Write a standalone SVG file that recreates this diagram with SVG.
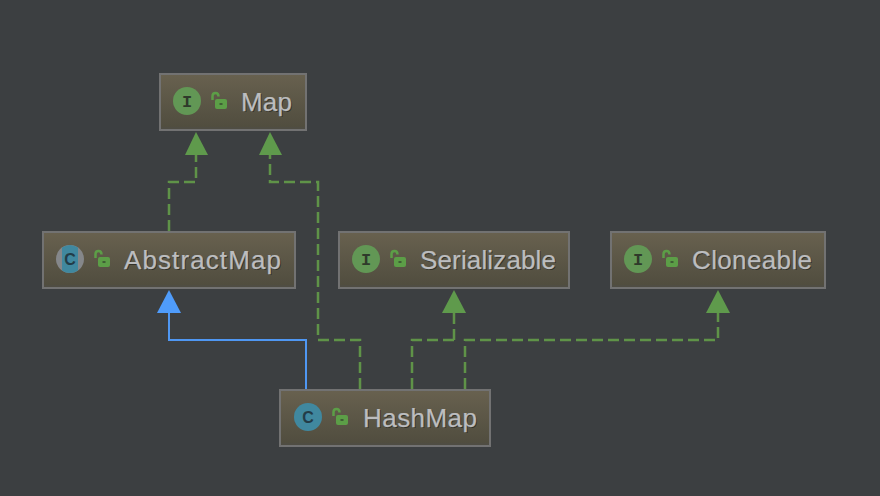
<svg xmlns="http://www.w3.org/2000/svg" width="880" height="496" viewBox="0 0 880 496">
<style>
.box{fill:url(#nodeFill);stroke:#727272;stroke-width:2}
.foot{fill:#4f4d43}
.lbl{font-family:"Liberation Sans",Arial,sans-serif;font-size:26px;fill:#bcbdbf;stroke:#bcbdbf;stroke-width:.25}
.shadow{font-family:"Liberation Sans",Arial,sans-serif;font-size:26px;fill:#26261f;fill-opacity:.75}
.ibg{fill:#629755}
.cbg{fill:#40889f}
.iglyph{font-family:"Liberation Mono",monospace;font-size:17px;font-weight:bold;text-anchor:middle;fill:#2f3a2b}
.cglyph{font-family:"Liberation Sans",Arial,sans-serif;font-size:16px;font-weight:bold;text-anchor:middle;fill:#233c48}
.lockb{fill:#5c9e47}
.locks{fill:none;stroke:#5c9e47;stroke-width:2.500}
.dash{fill:none;stroke:#5f9348;stroke-width:2.500;stroke-dasharray:11 5}
.solid{fill:none;stroke:#4f97f2;stroke-width:2}
.ghead{fill:#5f9a4c}
.bhead{fill:#4f9cfb}
</style>
<defs>
<linearGradient id="nodeFill" x1="0" y1="0" x2="0" y2="1">
<stop offset="0" stop-color="#68614f"/>
<stop offset="1" stop-color="#4f4c3e"/>
</linearGradient>
<g id="lock">
<path class="locks" d="M1.500 5V1Q1.500 -2 4.500 -2Q7.500 -2 7.500 1.500"/>
<rect class="lockb" x="4" y="4" width="12" height="10" rx="2"/>
<rect x="8.500" y="8" width="3" height="2" fill="#3f5f35"/>
</g>
</defs>
<rect width="880" height="496" fill="#3c3f41"/>
<g id="connectors">
<path class="dash" d="M169 231V182H196V154"/>
<path class="dash" d="M360 389V340H318V182H270V154"/>
<path class="solid" d="M306 389V340H169V312"/>
<path class="dash" d="M412 389V340H457"/>
<path class="dash" d="M465 389V340H718V312"/>
<path class="dash" d="M454 340V312"/>
<polygon class="ghead" points="196,132 185,155 208,155"/>
<polygon class="ghead" points="270,132 259,155 282,155"/>
<polygon class="bhead" points="169,290 157,313 181,313"/>
<polygon class="ghead" points="454,290 442,313 466,313"/>
<polygon class="ghead" points="718,290 706,313 730,313"/>
</g>
<g id="node-map">
<rect class="box" x="160" y="74" width="146" height="56"/>
<rect class="foot" x="161" y="127" width="144" height="2"/>
<circle class="ibg" cx="187" cy="101" r="14"/>
<text class="iglyph" x="187" y="107">I</text>
<use href="#lock" x="211" y="95"/>
<text class="shadow" x="242" y="112" textLength="51">Map</text>
<text class="lbl" x="241" y="111" textLength="51">Map</text>
</g>
<g id="node-abstractmap">
<rect class="box" x="43" y="232" width="252" height="56"/>
<rect class="foot" x="44" y="285" width="250" height="2"/>
<circle cx="70" cy="259" r="14" fill="#85878a"/>
<path class="cbg" d="M62 247.500A14 14 0 0 1 78 247.500V270.500A14 14 0 0 1 62 270.500Z"/>
<text class="cglyph" x="70" y="265">C</text>
<use href="#lock" x="94" y="253"/>
<text class="shadow" x="125" y="270" textLength="157">AbstractMap</text>
<text class="lbl" x="124" y="269" textLength="157">AbstractMap</text>
</g>
<g id="node-serializable">
<rect class="box" x="339" y="232" width="230" height="56"/>
<rect class="foot" x="340" y="285" width="228" height="2"/>
<circle class="ibg" cx="366" cy="259" r="14"/>
<text class="iglyph" x="366" y="265">I</text>
<use href="#lock" x="390" y="253"/>
<text class="shadow" x="421" y="270" textLength="136">Serializable</text>
<text class="lbl" x="420" y="269" textLength="136">Serializable</text>
</g>
<g id="node-cloneable">
<rect class="box" x="611" y="232" width="214" height="56"/>
<rect class="foot" x="612" y="285" width="212" height="2"/>
<circle class="ibg" cx="638" cy="259" r="14"/>
<text class="iglyph" x="638" y="265">I</text>
<use href="#lock" x="662" y="253"/>
<text class="shadow" x="693" y="270" textLength="120">Cloneable</text>
<text class="lbl" x="692" y="269" textLength="120">Cloneable</text>
</g>
<g id="node-hashmap">
<rect class="box" x="280" y="390" width="210" height="56"/>
<rect class="foot" x="281" y="443" width="208" height="2"/>
<circle class="cbg" cx="308" cy="417" r="14"/>
<text class="cglyph" x="308" y="423">C</text>
<use href="#lock" x="332" y="411"/>
<text class="shadow" x="364" y="428" textLength="114">HashMap</text>
<text class="lbl" x="363" y="427" textLength="114">HashMap</text>
</g>
</svg>
